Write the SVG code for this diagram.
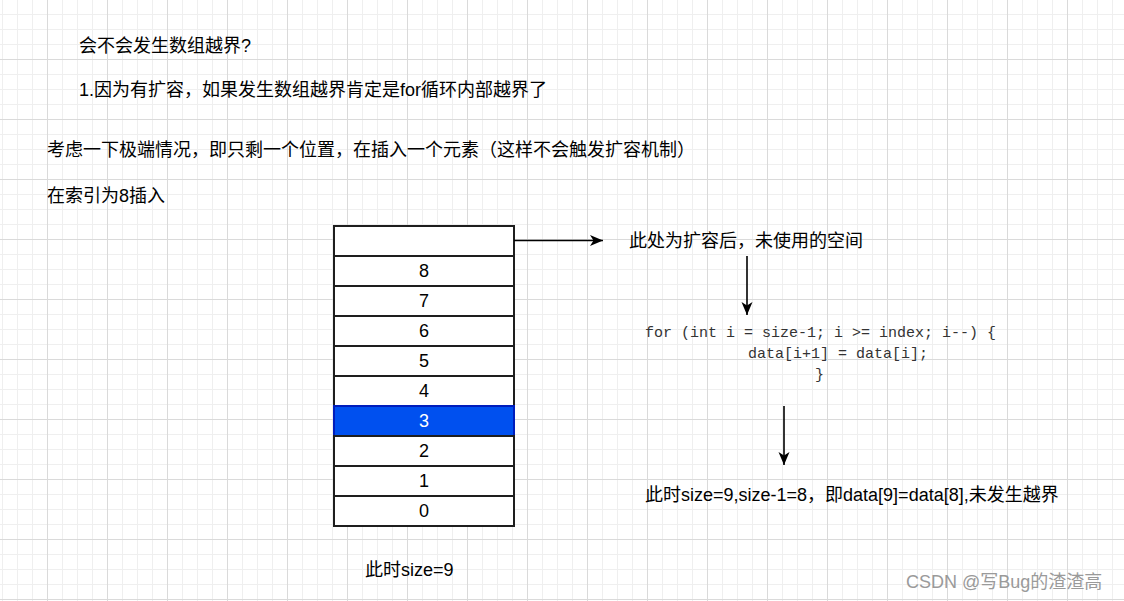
<svg xmlns="http://www.w3.org/2000/svg" width="1124" height="601" viewBox="0 0 1124 601">
<style>
.t{font-family:"Liberation Sans","Noto Sans CJK SC",sans-serif;font-size:18px;fill:#000}
.num{font-family:"Liberation Sans","Noto Sans CJK SC",sans-serif;font-size:18px;fill:#000;text-anchor:middle}
.code{font-family:"Liberation Mono","Noto Sans CJK SC",monospace;font-size:15px;fill:#333;white-space:pre}
.cell{fill:#fff;stroke:#1e1e1e;stroke-width:2}
.sel{fill:#0050ef;stroke:#001dbc;stroke-width:2}
.conn{stroke:#000;stroke-width:1.6;fill:none}
.wm{font-family:"Liberation Sans","Noto Sans CJK SC",sans-serif;font-size:18px;fill:#9a9a9a}
</style>
<defs>
<pattern id="gMinor" x="2" y="14" width="15" height="15" patternUnits="userSpaceOnUse">
<path d="M0.5 0V15M0 0.5H15" stroke="#efefef" stroke-width="1" fill="none"/>
</pattern>
<pattern id="gMajor" x="47" y="59" width="60" height="60" patternUnits="userSpaceOnUse">
<path d="M0.5 0V60M0 0.5H60" stroke="#dadada" stroke-width="1" fill="none"/>
</pattern>
<marker id="arr" viewBox="0 0 14 12" refX="13" refY="6" markerWidth="14" markerHeight="12" markerUnits="userSpaceOnUse" orient="auto">
<path d="M13 6L0 0.5L3.5 6L0 11.5Z" fill="#000"/>
</marker>
</defs>
<rect width="1124" height="601" fill="#fff"/>
<rect width="1124" height="601" fill="url(#gMinor)"/>
<rect width="1124" height="601" fill="url(#gMajor)"/>

<g id="title"><text class="t" x="79" y="52">会不会发生数组越界?</text></g>
<g id="reason"><text class="t" x="79" y="96">1.因为有扩容，如果发生数组越界肯定是for循环内部越界了</text></g>
<g id="extreme"><text class="t" x="47" y="156">考虑一下极端情况，即只剩一个位置，在插入一个元素（这样不会触发扩容机制）</text></g>
<g id="insert"><text class="t" x="47" y="202">在索引为8插入</text></g>

<g id="array">
<rect class="cell" x="334" y="226" width="180" height="30"/>
<rect class="cell" x="334" y="256" width="180" height="30"/>
<rect class="cell" x="334" y="286" width="180" height="30"/>
<rect class="cell" x="334" y="316" width="180" height="30"/>
<rect class="cell" x="334" y="346" width="180" height="30"/>
<rect class="cell" x="334" y="376" width="180" height="30"/>
<rect class="sel" x="334" y="406" width="180" height="30"/>
<rect class="cell" x="334" y="436" width="180" height="30"/>
<rect class="cell" x="334" y="466" width="180" height="30"/>
<rect class="cell" x="334" y="496" width="180" height="30"/>
<text class="num" x="424" y="277">8</text>
<text class="num" x="424" y="307">7</text>
<text class="num" x="424" y="337">6</text>
<text class="num" x="424" y="367">5</text>
<text class="num" x="424" y="397">4</text>
<text class="num" x="424" y="427" fill="#fff" style="fill:#fff">3</text>
<text class="num" x="424" y="457">2</text>
<text class="num" x="424" y="487">1</text>
<text class="num" x="424" y="517">0</text>
</g>

<g id="size-label"><text class="t" x="365" y="576">此时size=9</text></g>
<g id="unused-label"><text class="t" x="629" y="247">此处为扩容后，未使用的空间</text></g>
<g id="code">
<text class="code" x="645" y="337">for (int i = size-1; i &gt;= index; i--) {</text>
<text class="code" x="748" y="358">data[i+1] = data[i];</text>
<text class="code" x="815" y="379">}</text>
</g>
<g id="result"><text class="t" x="645" y="501">此时size=9,size-1=8，即data[9]=data[8],未发生越界</text></g>

<g id="connectors">
<path class="conn" d="M514 240.5H603" marker-end="url(#arr)"/>
<path class="conn" d="M747 256V315" marker-end="url(#arr)"/>
<path class="conn" d="M784 406V465" marker-end="url(#arr)"/>
</g>

<g id="watermark"><text class="wm" x="906" y="588">CSDN @写Bug的渣渣高</text></g>
</svg>
